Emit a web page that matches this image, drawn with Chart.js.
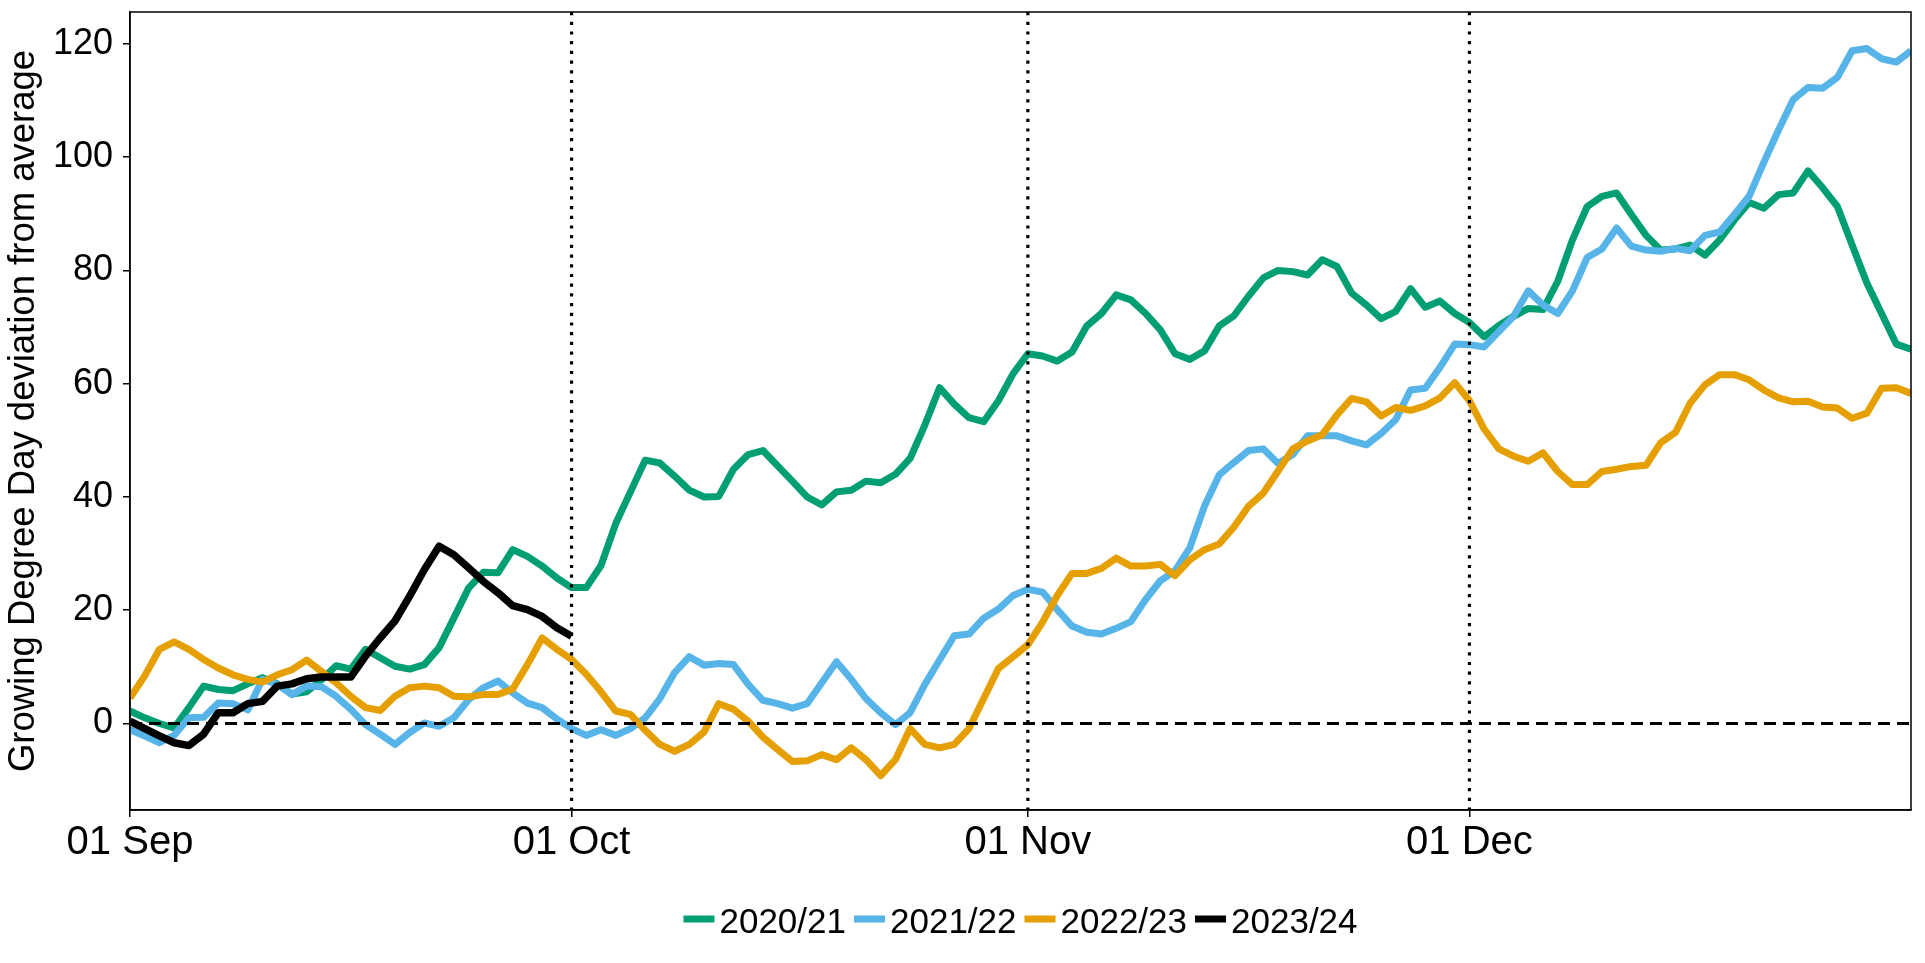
<!DOCTYPE html>
<html>
<head>
<meta charset="utf-8">
<script src="https://cdn.jsdelivr.net/npm/chart.js@4.4.1/dist/chart.umd.min.js"></script>
<style>
  html, body { margin: 0; padding: 0; background: #fff; }
  #wrap { width: 1925px; height: 963px; }
</style>
</head>
<body>
<div id="wrap"><canvas id="c" width="1925" height="963"></canvas></div>
<script>
// ---- data ----
const seasons = ['2020/21', '2021/22', '2022/23', '2023/24'];
// day index from 01 Sep (0) to 31 Dec (121)
const dayIndex = Array.from({ length: 122 }, (_, i) => i);
const tickDays = [0, 30, 61, 91];
const tickLabels = ['01 Sep', '01 Oct', '01 Nov', '01 Dec'];
const monthStartDays = [30, 61, 91];
const yTicks = [0, 20, 40, 60, 80, 100, 120];

const gdd2020 = [2.2,1.0,0.0,-0.8,2.8,6.6,6.0,5.8,7.0,8.1,7.0,5.2,5.6,7.7,10.2,9.6,13.1,11.6,10.1,9.6,10.4,13.4,18.6,23.9,26.7,26.6,30.7,29.5,27.8,25.7,
  24.0,24.0,27.9,35.3,40.9,46.5,46.0,43.7,41.2,40.0,40.1,44.9,47.5,48.2,45.5,42.8,40.0,38.6,40.9,41.2,42.8,42.5,44.0,46.8,52.7,59.3,56.4,54.0,53.3,57.0,61.8,
  65.3,64.9,64.0,65.6,70.2,72.4,75.7,74.8,72.4,69.5,65.3,64.3,65.8,70.2,72.0,75.5,78.7,80.0,79.8,79.2,81.9,80.7,76.0,73.9,71.5,72.8,76.8,73.5,74.6,72.4,
  70.8,68.3,70.3,71.9,73.3,73.1,78.1,85.4,91.3,93.1,93.7,89.9,86.2,83.6,83.8,84.5,82.7,85.4,88.9,92.0,91.0,93.4,93.7,97.6,94.6,91.3,84.5,77.8,72.4,67.0,66.1];
const gdd2021 = [-1.1,-2.2,-3.4,-2.1,1.0,1.1,3.6,3.5,2.4,7.8,6.9,5.1,6.6,6.5,4.8,2.5,-0.2,-1.9,-3.7,-1.6,0.1,-0.5,1.0,4.2,6.3,7.5,5.4,3.6,2.8,0.8,
  -0.9,-2.1,-1.1,-2.1,-0.9,1.0,4.4,9.0,11.8,10.3,10.6,10.4,6.9,4.1,3.5,2.7,3.5,7.2,10.9,7.8,4.4,1.9,-0.2,1.9,6.9,11.2,15.5,15.8,18.6,20.2,22.6,
  23.7,23.2,20.1,17.2,16.1,15.8,16.8,18.0,21.9,25.2,27.0,31.0,38.4,43.9,46.1,48.2,48.5,45.9,47.5,50.8,50.8,50.8,49.9,49.2,51.2,53.7,58.9,59.2,62.9,67.0,
  66.9,66.5,69.2,71.9,76.4,73.9,72.4,76.4,82.3,83.8,87.5,84.3,83.6,83.4,83.9,83.5,86.2,86.8,89.9,93.1,99.1,104.8,110.2,112.3,112.2,114.1,118.8,119.2,117.4,116.8,118.8];
const gdd2022 = [4.5,8.4,13.1,14.4,13.1,11.3,9.8,8.6,7.8,7.3,8.6,9.5,11.2,9.2,7.2,4.8,2.8,2.3,4.8,6.3,6.6,6.3,4.8,4.7,5.1,5.1,6.1,10.4,15.1,13.1,
  11.3,8.7,5.6,2.2,1.6,-1.2,-3.7,-4.9,-3.7,-1.5,3.5,2.5,0.4,-2.4,-4.6,-6.7,-6.6,-5.5,-6.4,-4.3,-6.4,-9.2,-6.4,-0.9,-3.7,-4.3,-3.7,-0.9,4.4,9.7,11.8,
  13.9,17.9,22.6,26.5,26.5,27.4,29.2,27.8,27.8,28.1,26.1,28.9,30.7,31.7,34.7,38.4,40.7,44.6,48.5,49.9,51.0,54.5,57.4,56.8,54.3,55.8,55.3,56.1,57.5,60.2,
  57.0,52.0,48.5,47.2,46.3,47.8,44.5,42.2,42.2,44.5,44.9,45.4,45.6,49.6,51.4,56.6,59.8,61.6,61.6,60.7,58.9,57.5,56.8,56.9,55.9,55.7,53.9,54.8,59.2,59.3,58.3];
const gdd2023 = [0.4,-0.9,-2.2,-3.4,-3.9,-1.9,1.9,1.9,3.5,3.9,6.6,7.0,7.9,8.2,8.2,8.2,11.9,15.1,18.1,22.5,27.2,31.3,29.8,27.5,25.1,23.1,20.8,20.1,18.9,16.9,15.4];

// ---- styles ----
const FONT = '"Liberation Sans", Arial, Helvetica, sans-serif';
const seriesColors = ['#009E73', '#56B4E9', '#E69F00', '#000000'];
const seriesWidths = [7, 7, 7, 7.5];
const seriesData = [gdd2020, gdd2021, gdd2022, gdd2023];

Chart.defaults.color = '#000';
Chart.defaults.font.family = FONT;

const datasets = seasons.map((s, i) => ({
  label: s,
  data: seriesData[i],
  borderColor: seriesColors[i],
  backgroundColor: seriesColors[i],
  borderWidth: seriesWidths[i],
  pointRadius: 0,
  tension: 0,
  borderJoinStyle: 'round',
  borderCapStyle: 'butt',
  fill: false,
  order: seasons.length - i
}));

const refLines = {
  id: 'refLines',
  afterDatasetsDraw(chart) {
    const { ctx, chartArea: a, scales: { x, y } } = chart;
    ctx.save();
    ctx.beginPath();
    ctx.rect(a.left, a.top, a.right - a.left, a.bottom - a.top);
    ctx.clip();
    // zero line dashed
    ctx.strokeStyle = '#000';
    ctx.lineWidth = 3;
    ctx.setLineDash([12, 7]);
    const y0 = Math.round(y.getPixelForValue(0)) + 0.5;
    ctx.beginPath();
    ctx.moveTo(a.left, y0);
    ctx.lineTo(a.right, y0);
    ctx.stroke();
    // month dotted lines
    ctx.lineWidth = 3.2;
    ctx.setLineDash([3.2, 6.5]);
    monthStartDays.forEach(d => {
      const px = x.getPixelForValue(d);
      ctx.beginPath();
      ctx.moveTo(px, a.top);
      ctx.lineTo(px, a.bottom);
      ctx.stroke();
    });
    ctx.restore();
  },
  afterDraw(chart) {
    const { ctx, chartArea: a } = chart;
    ctx.save();
    // panel border
    ctx.strokeStyle = '#000';
    ctx.lineWidth = 1.5;
    ctx.strokeRect(a.left, a.top, a.right - a.left, a.bottom - a.top);
    // legend
    ctx.font = '35px ' + FONT;
    ctx.textBaseline = 'alphabetic';
    ctx.textAlign = 'left';
    const sampleW = 31, gapIn = 5, gapOut = 8;
    const items = chart.data.datasets.map(ds => ({
      label: ds.label, color: ds.borderColor, w: ctx.measureText(ds.label).width
    }));
    const total = items.reduce((s, it) => s + sampleW + gapIn + it.w, 0) + gapOut * (items.length - 1);
    let cx = (a.left + a.right) / 2 - total / 2;
    const yMid = 919, yBase = 932.5;
    items.forEach(it => {
      ctx.fillStyle = it.color;
      ctx.fillRect(cx, yMid - 3.5, sampleW, 7);
      cx += sampleW + gapIn;
      ctx.fillStyle = '#000';
      ctx.fillText(it.label, cx, yBase);
      cx += it.w + gapOut;
    });
    ctx.restore();
  }
};

new Chart(document.getElementById('c'), {
  type: 'line',
  data: { labels: dayIndex, datasets },
  options: {
    responsive: false,
    animation: false,
    devicePixelRatio: 1,
    layout: { padding: { top: 12, right: 14, left: 0, bottom: 0 } },
    plugins: { legend: { display: false }, tooltip: { enabled: false } },
    scales: {
      x: {
        type: 'linear',
        min: 0,
        max: 121,
        afterBuildTicks: s => { s.ticks = tickDays.map(v => ({ value: v })); },
        afterFit: s => { s.height = 153; s.paddingLeft = 0; s.paddingRight = 0; },
        ticks: {
          callback: v => tickLabels[tickDays.indexOf(v)],
          font: { size: 40, family: FONT },
          color: '#000',
          padding: 2,
          maxRotation: 0,
          autoSkip: false
        },
        grid: { drawOnChartArea: false, drawTicks: true, tickLength: 7, color: '#000', lineWidth: 1.5 },
        border: { display: true, color: '#000', width: 1.5 }
      },
      y: {
        type: 'linear',
        min: -15.28,
        max: 125.65,
        afterBuildTicks: s => { s.ticks = yTicks.map(v => ({ value: v })); },
        afterFit: s => { s.width = 130; s.paddingTop = 0; s.paddingBottom = 0; },
        ticks: {
          font: { size: 36, family: FONT },
          color: '#000',
          padding: 10
        },
        grid: { drawOnChartArea: false, drawTicks: true, tickLength: 7, color: '#000', lineWidth: 1.5 },
        border: { display: true, color: '#000', width: 1.5 },
        title: {
          display: true,
          text: 'Growing Degree Day deviation from average',
          font: { size: 36.5, family: FONT },
          color: '#000',
          padding: { top: 2, bottom: 0 }
        }
      }
    }
  },
  plugins: [refLines]
});
</script>
</body>
</html>
